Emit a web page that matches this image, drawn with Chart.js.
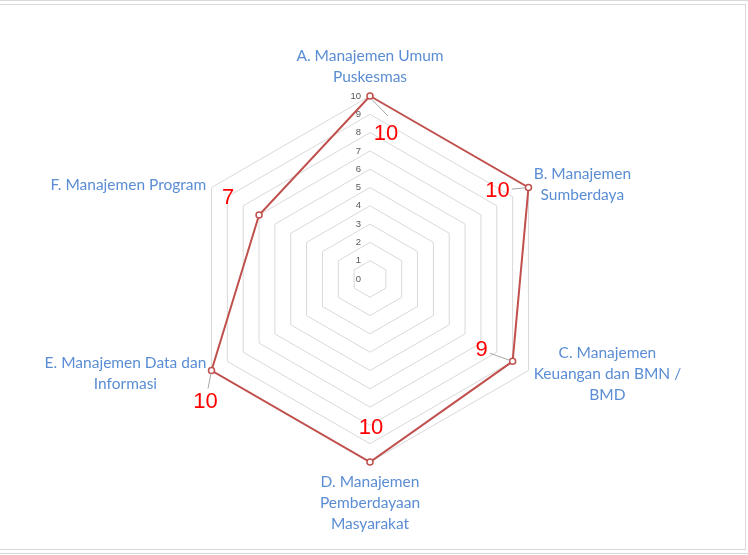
<!DOCTYPE html>
<html>
<head>
<meta charset="utf-8">
<script src="https://cdn.jsdelivr.net/npm/chart.js@4.4.0/dist/chart.umd.min.js"></script>
<style>
  html, body { margin: 0; padding: 0; background: #fff; }
  #wrap { position: relative; width: 748px; height: 555px; overflow: hidden; }
  #topline { position: absolute; left: 0; top: 0; width: 748px; height: 0; border-top: 1px solid #d9d9d9; }
  #botline { position: absolute; left: 0; top: 553px; width: 748px; height: 0; border-top: 1px solid #d9d9d9; }
  #frame { position: absolute; left: -1px; top: 4px; width: 745px; height: 544px; border: 1px solid #d9d9d9; }
  canvas { position: absolute; left: 0; top: 0; }
</style>
</head>
<body>
<div id="wrap">
  <div id="topline"></div>
  <div id="frame"></div>
  <div id="botline"></div>
  <canvas id="radar" width="748" height="555"></canvas>
</div>
<script>
// categories (multi-line labels as in the original)
const categories = [
  ['A. Manajemen Umum', 'Puskesmas'],
  ['B. Manajemen', 'Sumberdaya'],
  ['C. Manajemen', 'Keuangan dan BMN /', 'BMD'],
  ['D. Manajemen', 'Pemberdayaan', 'Masyarakat'],
  ['E. Manajemen Data dan', 'Informasi'],
  ['F. Manajemen Program']
];
const scores = [10, 10, 9, 10, 10, 7];
const tickValues = [0, 1, 2, 3, 4, 5, 6, 7, 8, 9, 10];

// where each red value label sits relative to its point, and whether it gets a leader line
const valueLabelOffset = [[16, 38], [-31, 3], [-31, -11], [1, -34], [-6, 31], [-31, -17]];
const valueLabelLeader = [true, true, true, false, true, false];

const labelFont = '15.5px Lato, "Liberation Sans", sans-serif';
const labelColor = '#5a8dd4';

const decorations = {
  id: 'decorations',
  beforeDatasetsDraw(chart) {
    const s = chart.scales.r;
    const ctx = chart.ctx;
    ctx.save();
    ctx.font = '9.5px "Liberation Sans", Arial, sans-serif';
    ctx.fillStyle = '#595959';
    ctx.textAlign = 'right';
    ctx.textBaseline = 'middle';
    tickValues.forEach(v => {
      const y = s.yCenter - s.getDistanceFromCenterForValue(v);
      ctx.fillText(String(v), s.xCenter - 9, y);
    });
    ctx.restore();
  },
  afterDatasetsDraw(chart) {
    const s = chart.scales.r;
    const ctx = chart.ctx;
    ctx.save();

    // category labels
    ctx.font = labelFont;
    ctx.fillStyle = labelColor;
    ctx.textAlign = 'center';
    ctx.textBaseline = 'middle';
    const lineH = 21;
    categories.forEach((lines, i) => {
      const p = s.getPointPosition(i, s.drawingArea + 6);
      const w = Math.max(...lines.map(l => ctx.measureText(l).width));
      const h = lines.length * lineH;
      let cx, top;
      if (Math.abs(p.x - s.xCenter) < 5) {
        cx = p.x;
        top = p.y < s.yCenter ? p.y - 3 - h : p.y + 3;
      } else if (p.x > s.xCenter) {
        cx = p.x + w / 2;
        top = p.y - h / 2;
      } else {
        cx = p.x - w / 2;
        top = p.y - h / 2;
      }
      lines.forEach((l, k) => ctx.fillText(l, cx, top + lineH * k + lineH / 2));
    });

    // value labels
    const meta = chart.getDatasetMeta(0);
    ctx.font = '22px "Liberation Sans", Arial, sans-serif';
    meta.data.forEach((pt, i) => {
      const [dx, dy] = valueLabelOffset[i];
      const lx = pt.x + dx, ly = pt.y + dy;
      const txt = String(scores[i]);
      if (valueLabelLeader[i]) {
        const hw = ctx.measureText(txt).width / 2 + 2, hh = 13;
        const vx = pt.x - lx, vy = pt.y - ly;
        const t = Math.min(Math.abs(vx) > 0 ? hw / Math.abs(vx) : 99, Math.abs(vy) > 0 ? hh / Math.abs(vy) : 99);
        const len = Math.hypot(vx, vy);
        let ex = lx + vx * t, ey = ly + vy * t;
        if (i === 0) { ex = lx + 2; ey = ly - 18; }
        ctx.strokeStyle = '#a6a6a6';
        ctx.lineWidth = 1;
        ctx.beginPath();
        ctx.moveTo(pt.x - vx / len * 3, pt.y - vy / len * 3);
        ctx.lineTo(ex, ey);
        ctx.stroke();
      }
      ctx.fillStyle = '#ff0000';
      ctx.fillText(txt, lx, ly);
    });
    ctx.restore();
  }
};

new Chart(document.getElementById('radar'), {
  type: 'radar',
  data: {
    labels: categories,
    datasets: [{
      data: scores,
      borderColor: '#c0504d',
      borderWidth: 2,
      backgroundColor: 'rgba(0,0,0,0)',
      fill: false,
      pointRadius: 3,
      pointBorderWidth: 1.5,
      pointBackgroundColor: '#ffffff',
      pointBorderColor: '#c0504d',
      tension: 0
    }]
  },
  options: {
    responsive: false,
    devicePixelRatio: 1,
    animation: false,
    layout: { padding: { left: 187, right: 195, top: 96, bottom: 93 } },
    scales: {
      r: {
        min: 0,
        max: 10,
        ticks: { stepSize: 1, display: false },
        grid: { color: '#d9d9d9', lineWidth: 1 },
        angleLines: { display: false },
        pointLabels: { display: false }
      }
    },
    plugins: {
      legend: { display: false },
      tooltip: { enabled: false }
    }
  },
  plugins: [decorations]
});
</script>
</body>
</html>
